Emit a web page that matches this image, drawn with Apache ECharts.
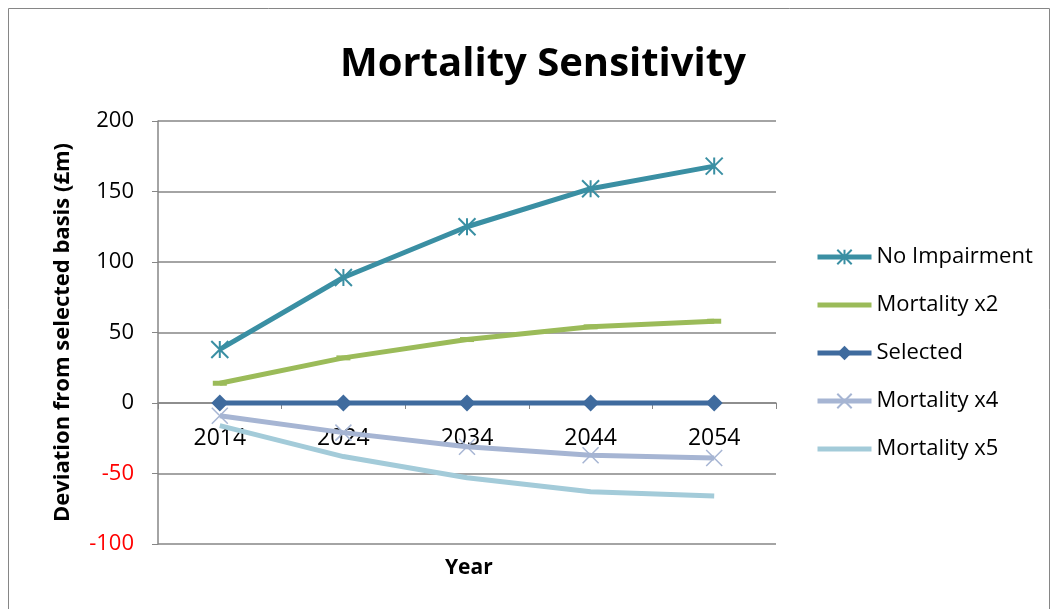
<!DOCTYPE html>
<html><head><meta charset="utf-8">
<script src="https://cdn.jsdelivr.net/npm/echarts@6/dist/echarts.min.js"></script>
<style>html,body{margin:0;padding:0;background:#fff}#c{width:1054px;height:609px}</style>
</head><body><div id="c"></div>
<script>
const years = ['2014','2024','2034','2044','2054'];
const noImpairment = [38, 89, 125, 152, 168];
const mortalityX2 = [14, 32, 45, 54, 58];
const selected = [0, 0, 0, 0, 0];
const mortalityX4 = [-9, -21, -31, -37, -39];
const mortalityX5 = [-16, -38, -53, -63, -66];
const yTicks = { min: -100, max: 200, interval: 50 };

const FONT = 'Open Sans';
const asterisk = 'path://M0,0L20,20M20,0L0,20M10,0L10,20';
const cross = 'path://M0,0L20,20M20,0L0,20';
const plainLine = 'path://M0,0M54,18M0,6.5H54V11.5H0Z';

const chart = echarts.init(document.getElementById('c'));
chart.setOption({
  animation: false,
  textStyle: { fontFamily: FONT, color: '#000' },
  title: { text: 'Mortality Sensitivity', left: 538, top: 40, textAlign: 'center',
    textStyle: { fontFamily: FONT, fontSize: 40, fontWeight: 'bold', color: '#000' } },
  graphic: [
    { type: 'rect', shape: { x: 8.5, y: 8.5, width: 1041, height: 620 }, style: { fill: 'none', stroke: '#868686', lineWidth: 1 } },
    { type: 'text', left: 445, top: 558, style: { text: 'Year', fontFamily: FONT, fontSize: 21, fontWeight: 'bold', fill: '#000' } }
  ],
  grid: { left: 158, right: 278, top: 121, bottom: 65, outerBoundsMode: 'none', containLabel: false },
  legend: {
    orient: 'vertical', left: 810, top: 241, itemGap: 26, itemWidth: 54, itemHeight: 18,
    textStyle: { fontFamily: FONT, fontSize: 22, color: '#000' },
    lineStyle: { width: 5 },
    data: [
      { name: 'No Impairment' },
      { name: 'Mortality x2', icon: plainLine },
      { name: 'Selected' },
      { name: 'Mortality x4' },
      { name: 'Mortality x5', icon: plainLine }
    ]
  },
  xAxis: {
    type: 'category', data: years, boundaryGap: true,
    axisLine: { onZero: true, lineStyle: { color: '#868686', width: 1.5 } },
    axisTick: { show: true, inside: false, length: 6, lineStyle: { color: '#868686' } },
    axisLabel: { fontFamily: FONT, fontSize: 23, color: '#000', margin: -117 },
    splitLine: { show: false }
  },
  yAxis: {
    type: 'value', min: yTicks.min, max: yTicks.max, interval: yTicks.interval,
    name: 'Deviation from selected basis (£m)', nameLocation: 'middle', nameGap: 84, nameRotate: 90,
    nameTextStyle: { fontFamily: FONT, fontSize: 22, fontWeight: 'bold', color: '#000' },
    axisLine: { show: true, lineStyle: { color: '#868686', width: 1.5 } },
    axisTick: { show: true, length: 6, lineStyle: { color: '#868686' } },
    axisLabel: { fontFamily: FONT, fontSize: 22, margin: 24,
      color: v => (v < 0 ? '#ff0000' : '#000') },
    splitLine: { show: true, lineStyle: { color: '#868686', width: 1.5 } }
  },
  series: [
    { name: 'No Impairment', type: 'line', data: noImpairment, symbol: asterisk, symbolSize: 17,
      lineStyle: { color: '#3a8fa3', width: 5 },
      itemStyle: { color: 'rgba(0,0,0,0)', borderColor: '#3a8fa3', borderWidth: 2 }, z: 5 },
    { name: 'Mortality x2', type: 'line', data: mortalityX2, symbol: 'rect', symbolSize: [14, 5],
      lineStyle: { color: '#9bbb59', width: 5 }, itemStyle: { color: '#9bbb59' } },
    { name: 'Selected', type: 'line', data: selected, symbol: 'diamond', symbolSize: 17,
      lineStyle: { color: '#3f6b9e', width: 5 }, itemStyle: { color: '#3f6b9e' }, z: 4 },
    { name: 'Mortality x4', type: 'line', data: mortalityX4, symbol: cross, symbolSize: 16,
      lineStyle: { color: '#a6b5d3', width: 5 },
      itemStyle: { color: 'rgba(0,0,0,0)', borderColor: '#a6b5d3', borderWidth: 1.5 } },
    { name: 'Mortality x5', type: 'line', data: mortalityX5, symbol: 'none',
      lineStyle: { color: '#a3cbd9', width: 5 }, itemStyle: { color: '#a3cbd9' } }
  ]
});
</script></body></html>
